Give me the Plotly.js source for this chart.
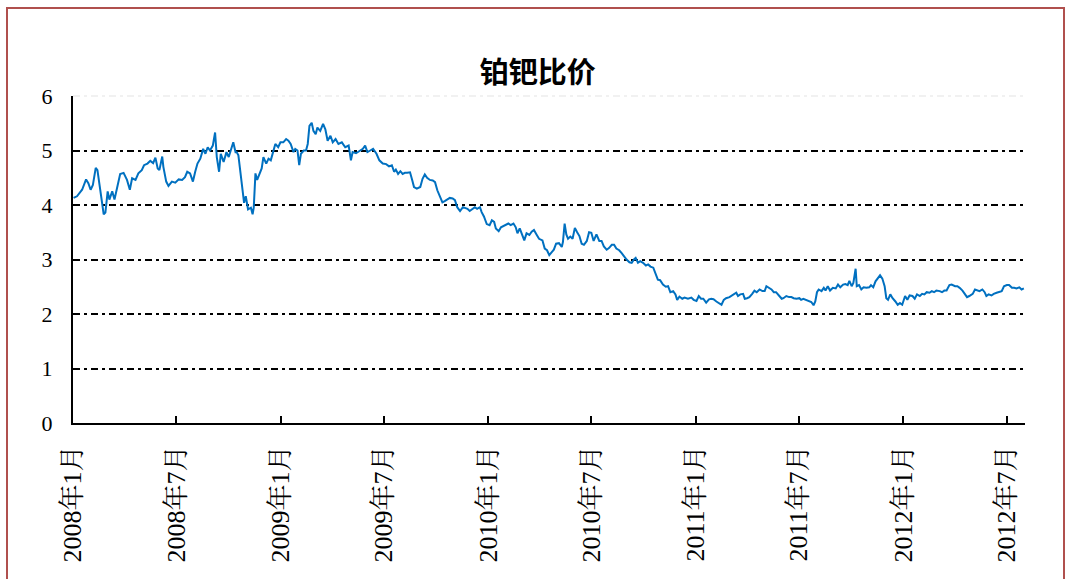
<!DOCTYPE html>
<html><head><meta charset="utf-8">
<script src="https://cdn.plot.ly/plotly-3.0.1.min.js"></script>
<style>
html,body{margin:0;padding:0;background:#fff;}
#wrap{position:relative;width:1065px;height:579px;overflow:hidden;}
#chart{position:absolute;left:0;top:0;width:1065px;height:579px;}
#frame{position:absolute;left:6px;top:7px;width:1055px;height:640px;border:2px solid #b0504e;pointer-events:none;}
</style></head>
<body><div id="wrap"><div id="chart"></div><div id="frame"></div></div>
<script>
const chartTitle = "铂钯比价";
const dates = [
"2008-01-02","2008-01-08","2008-01-17","2008-01-24","2008-01-28","2008-02-01","2008-02-05","2008-02-10","2008-02-13","2008-02-17","2008-02-19","2008-02-24","2008-02-27",
"2008-03-02","2008-03-05","2008-03-10","2008-03-14","2008-03-18","2008-03-24","2008-03-30","2008-04-05","2008-04-10","2008-04-14","2008-04-20","2008-04-25",
"2008-05-01","2008-05-05","2008-05-11","2008-05-16","2008-05-21","2008-05-25","2008-05-29","2008-06-01","2008-06-06","2008-06-08","2008-06-13","2008-06-17","2008-06-23","2008-06-29",
"2008-07-05","2008-07-11","2008-07-16","2008-07-20","2008-07-25","2008-07-30","2008-08-03","2008-08-07","2008-08-12","2008-08-17","2008-08-21","2008-08-25","2008-08-29",
"2008-09-03","2008-09-07","2008-09-10","2008-09-14","2008-09-17","2008-09-22","2008-09-27","2008-10-01","2008-10-06","2008-10-09","2008-10-13","2008-10-15","2008-10-18","2008-10-22","2008-10-26","2008-10-28",
"2008-10-31","2008-11-04","2008-11-09","2008-11-12","2008-11-14","2008-11-17","2008-11-20","2008-11-24","2008-11-28","2008-12-01","2008-12-06","2008-12-10","2008-12-14","2008-12-18","2008-12-22","2008-12-27","2008-12-31",
"2009-01-05","2009-01-10","2009-01-14","2009-01-18","2009-01-23","2009-01-26","2009-01-30","2009-02-02","2009-02-05","2009-02-10","2009-02-14","2009-02-17","2009-02-20","2009-02-24","2009-02-27",
"2009-03-03","2009-03-06","2009-03-11","2009-03-16","2009-03-20","2009-03-24","2009-03-29","2009-04-02","2009-04-07","2009-04-12","2009-04-18","2009-04-24","2009-04-30",
"2009-05-04","2009-05-07","2009-05-13","2009-05-20","2009-05-25","2009-05-29","2009-06-02","2009-06-07","2009-06-12","2009-06-18","2009-06-23","2009-06-29",
"2009-07-05","2009-07-10","2009-07-15","2009-07-19","2009-07-22","2009-07-26","2009-07-30","2009-08-03","2009-08-07","2009-08-11","2009-08-16","2009-08-20","2009-08-23","2009-08-28",
"2009-09-03","2009-09-07","2009-09-11","2009-09-15","2009-09-20","2009-09-25","2009-09-29","2009-10-03","2009-10-08","2009-10-12","2009-10-16","2009-10-20","2009-10-25","2009-10-30",
"2009-11-03","2009-11-07","2009-11-12","2009-11-17","2009-11-21","2009-11-25","2009-11-29","2009-12-04","2009-12-08","2009-12-12","2009-12-17","2009-12-20","2009-12-24","2009-12-29",
"2010-01-03","2010-01-07","2010-01-11","2010-01-14","2010-01-19","2010-01-23","2010-01-27","2010-02-01","2010-02-05","2010-02-09","2010-02-14","2010-02-18","2010-02-21","2010-02-25",
"2010-03-02","2010-03-05","2010-03-09","2010-03-14","2010-03-18","2010-03-22","2010-03-27","2010-03-31","2010-04-06","2010-04-10","2010-04-14","2010-04-18","2010-04-22","2010-04-26","2010-04-30",
"2010-05-05","2010-05-10","2010-05-12","2010-05-15","2010-05-18","2010-05-21","2010-05-25","2010-05-29","2010-06-02","2010-06-06","2010-06-10","2010-06-14","2010-06-18","2010-06-23","2010-06-27",
"2010-07-01","2010-07-05","2010-07-10","2010-07-15","2010-07-19","2010-07-23","2010-07-28","2010-08-01","2010-08-06","2010-08-10","2010-08-14","2010-08-19","2010-08-23","2010-08-27",
"2010-09-01","2010-09-06","2010-09-10","2010-09-14","2010-09-17","2010-09-21","2010-09-25","2010-09-30","2010-10-05","2010-10-09","2010-10-13","2010-10-18","2010-10-22","2010-10-26","2010-10-30",
"2010-11-04","2010-11-09","2010-11-13","2010-11-17","2010-11-22","2010-11-26","2010-11-29","2010-12-03","2010-12-08","2010-12-12","2010-12-18","2010-12-24","2010-12-28",
"2011-01-02","2011-01-06","2011-01-10","2011-01-14","2011-01-19","2011-01-24","2011-01-28","2011-02-01","2011-02-06","2011-02-10","2011-02-15","2011-02-19","2011-02-23",
"2011-03-01","2011-03-04","2011-03-08","2011-03-13","2011-03-16","2011-03-20","2011-03-25","2011-03-28","2011-04-01","2011-04-05","2011-04-10","2011-04-14","2011-04-18","2011-04-23","2011-04-28",
"2011-05-02","2011-05-05","2011-05-09","2011-05-14","2011-05-18","2011-05-22","2011-05-27","2011-06-01","2011-06-04","2011-06-09","2011-06-14","2011-06-18","2011-06-22","2011-06-27",
"2011-07-02","2011-07-05","2011-07-09","2011-07-14","2011-07-19","2011-07-23","2011-07-27","2011-07-30","2011-08-02","2011-08-05","2011-08-10","2011-08-14","2011-08-17","2011-08-21","2011-08-25","2011-08-30",
"2011-09-04","2011-09-08","2011-09-12","2011-09-17","2011-09-21","2011-09-25","2011-09-28","2011-10-02","2011-10-05","2011-10-09","2011-10-11","2011-10-15","2011-10-19","2011-10-23","2011-10-28",
"2011-11-02","2011-11-05","2011-11-09","2011-11-13","2011-11-17","2011-11-21","2011-11-25","2011-11-29","2011-12-02","2011-12-05","2011-12-09","2011-12-13","2011-12-18","2011-12-22","2011-12-26","2011-12-30",
"2012-01-04","2012-01-08","2012-01-12","2012-01-17","2012-01-21","2012-01-25","2012-01-30","2012-02-03","2012-02-07","2012-02-11","2012-02-16","2012-02-20","2012-02-24","2012-02-28",
"2012-03-05","2012-03-09","2012-03-13","2012-03-17","2012-03-22","2012-03-26","2012-04-01","2012-04-05","2012-04-09","2012-04-14","2012-04-18","2012-04-22","2012-04-26",
"2012-05-02","2012-05-06","2012-05-10","2012-05-14","2012-05-19","2012-05-23","2012-05-26","2012-05-30","2012-06-04","2012-06-08","2012-06-13","2012-06-17","2012-06-22","2012-06-26",
"2012-07-01","2012-07-05","2012-07-10","2012-07-14","2012-07-18","2012-07-23","2012-07-27","2012-07-31"
];
const ratio = [
4.13,4.16,4.28,4.47,4.40,4.28,4.37,4.68,4.64,4.34,4.28,3.83,3.86,
4.25,4.10,4.25,4.10,4.28,4.57,4.59,4.46,4.28,4.49,4.46,4.58,
4.64,4.73,4.76,4.81,4.77,4.87,4.67,4.64,4.89,4.70,4.43,4.35,4.43,4.41,
4.47,4.46,4.51,4.61,4.58,4.43,4.61,4.76,4.85,5.03,4.94,5.06,5.00,
5.09,5.33,4.88,4.61,4.94,4.79,4.97,4.88,5.06,5.15,4.97,4.97,4.91,4.55,4.28,4.04,
4.16,3.92,3.95,3.83,3.95,4.58,4.46,4.55,4.67,4.88,4.76,4.85,4.82,4.97,5.12,5.06,5.15,
5.15,5.21,5.18,5.12,4.97,5.03,5.00,4.73,4.94,5.00,5.00,5.12,5.45,5.51,5.36,
5.30,5.42,5.36,5.49,5.39,5.18,5.27,5.15,5.21,5.12,5.15,5.06,5.09,
4.82,4.97,4.95,5.00,5.03,5.09,4.97,5.00,5.03,4.94,4.82,4.76,
4.75,4.71,4.73,4.61,4.65,4.57,4.62,4.57,4.59,4.59,4.60,4.45,4.33,4.30,
4.33,4.48,4.56,4.50,4.46,4.45,4.42,4.27,4.15,4.05,4.07,4.10,4.13,4.12,
4.09,3.96,3.89,3.96,3.95,3.93,3.89,3.93,3.96,3.93,3.96,3.87,3.79,3.65,
3.63,3.72,3.69,3.57,3.52,3.59,3.61,3.63,3.66,3.63,3.66,3.59,3.48,3.57,
3.45,3.35,3.48,3.45,3.51,3.54,3.45,3.38,3.35,3.20,3.17,3.08,3.13,3.18,3.29,
3.30,3.23,3.32,3.66,3.46,3.38,3.42,3.38,3.58,3.50,3.43,3.29,3.27,3.34,3.50,
3.49,3.34,3.46,3.34,3.34,3.24,3.18,3.21,3.27,3.27,3.20,3.17,3.12,3.06,
3.00,2.95,2.94,3.00,3.03,2.94,2.97,2.94,2.89,2.91,2.87,2.85,2.73,2.63,2.62,
2.54,2.50,2.51,2.40,2.42,2.36,2.26,2.32,2.28,2.30,2.28,2.30,2.26,
2.24,2.33,2.28,2.28,2.21,2.27,2.28,2.27,2.23,2.20,2.17,2.26,2.29,
2.31,2.33,2.37,2.39,2.33,2.36,2.37,2.28,2.29,2.31,2.37,2.43,2.40,2.45,2.42,
2.42,2.51,2.48,2.45,2.40,2.40,2.34,2.28,2.29,2.33,2.31,2.31,2.29,2.28,
2.29,2.26,2.28,2.26,2.23,2.22,2.16,2.23,2.40,2.45,2.42,2.48,2.43,2.51,2.43,2.48,
2.47,2.54,2.49,2.54,2.55,2.53,2.61,2.51,2.57,2.83,2.51,2.53,2.45,2.49,2.48,
2.49,2.53,2.49,2.60,2.65,2.71,2.65,2.51,2.29,2.26,2.36,2.29,2.23,2.17,2.20,2.17,
2.33,2.26,2.34,2.33,2.28,2.36,2.33,2.37,2.36,2.40,2.39,2.42,2.40,2.43,
2.42,2.40,2.43,2.43,2.53,2.54,2.51,2.51,2.48,2.43,2.37,2.31,2.33,
2.37,2.45,2.43,2.42,2.45,2.40,2.33,2.36,2.34,2.37,2.39,2.40,2.42,2.51,
2.53,2.53,2.48,2.48,2.47,2.49,2.45,2.47
];
const xTickVals = ["2008-01-01","2008-07-01","2009-01-01","2009-07-01","2010-01-01","2010-07-01","2011-01-01","2011-07-01","2012-01-01","2012-07-01"];
const xTickText = ["2008年1月","2008年7月","2009年1月","2009年7月","2010年1月","2010年7月","2011年1月","2011年7月","2012年1月","2012年7月"];
const yTickVals = [0,1,2,3,4,5,6];
const yGridVals = [1,2,3,4,5];
const xRange = ["2008-01-01","2012-08-02"];
const yRange = [0,6];

const serif = "Liberation Serif, 'Noto Serif CJK SC', 'Noto Sans CJK SC', serif";

const trace = {
  x: dates, y: ratio, type:"scatter", mode:"lines",
  line:{color:"#0070c0", width:2}, hoverinfo:"skip"
};

const layout = {
  width:1065, height:579,
  margin:{l:73, r:40, t:96, b:156},
  paper_bgcolor:"rgba(0,0,0,0)", plot_bgcolor:"#fff",
  showlegend:false,
  title:{text:chartTitle, x:0.505, xref:"container", y:0.874, yref:"container", yanchor:"middle", xanchor:"center",
         font:{family:"'Noto Sans CJK SC', sans-serif", size:29, color:"#000", weight:"bold"}},
  xaxis:{type:"date", range:xRange, tickmode:"array", tickvals:xTickVals, ticktext:xTickText,
         tickangle:-90, ticks:"inside", ticklen:7, tickwidth:2, tickcolor:"#000",
         showline:true, linecolor:"#000", linewidth:2, showgrid:false, zeroline:false,
         tickfont:{family:serif, size:26, color:"#000"}, ticklabelstandoff:10},
  yaxis:{range:yRange, tickmode:"array", tickvals:yTickVals, ticks:"inside", ticklen:6, tickwidth:2, tickcolor:"#000",
         showline:true, linecolor:"#000", linewidth:2, showgrid:false, zeroline:false,
         tickfont:{family:serif, size:22, color:"#000"}, ticklabelstandoff:14,
         minor:{tickmode:"array", tickvals:yGridVals, showgrid:true, gridcolor:"#000", gridwidth:2, griddash:"7px,4px,3px,4px", ticks:""}},
  shapes:[{type:"line", xref:"paper", yref:"paper", x0:0, x1:1, y0:1, y1:1,
           line:{color:"#e3e3e3", width:1.2, dash:"7px,4px,3px,4px"}, layer:"below"}]
};
Plotly.newPlot("chart",[trace],layout,{displayModeBar:false, staticPlot:true});
</script></body></html>
